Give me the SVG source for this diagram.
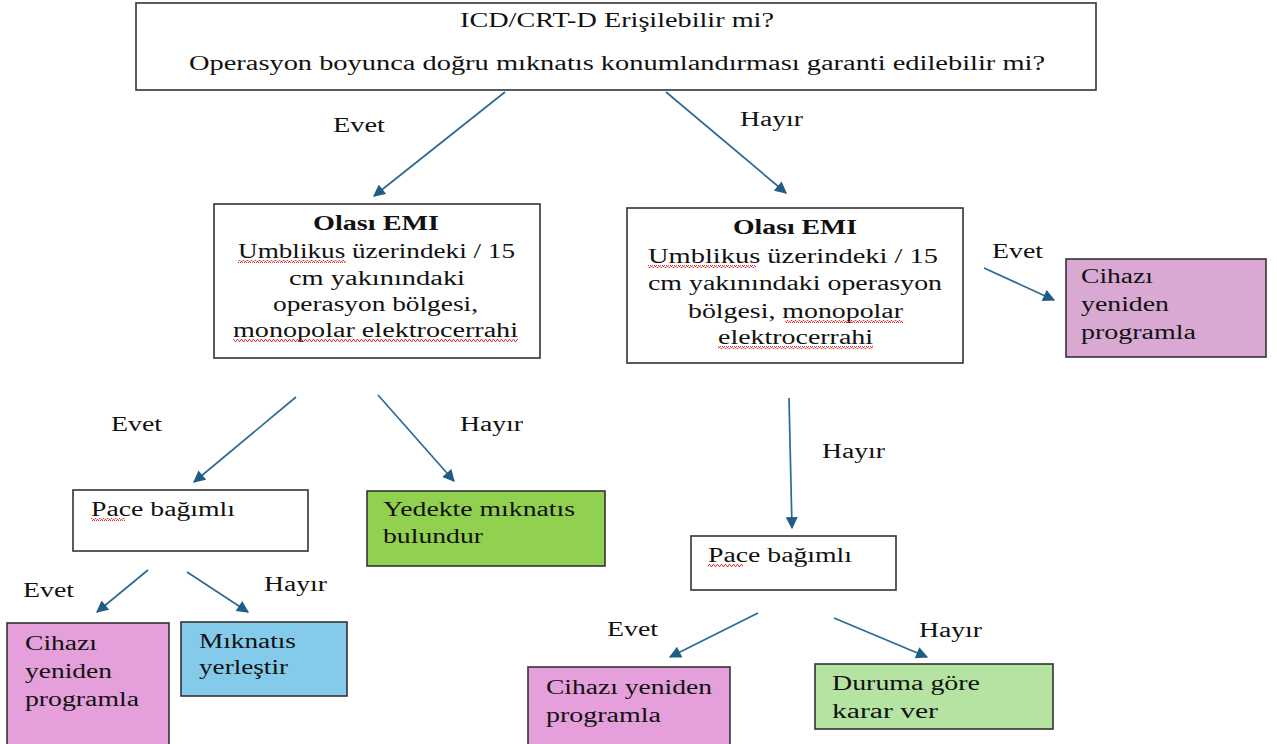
<svg xmlns="http://www.w3.org/2000/svg" width="1277" height="744" viewBox="0 0 1277 744">
<style>
text{font-family:"Liberation Serif","Times New Roman",serif;font-size:20px;fill:#111}
.b{font-weight:bold}
.box{stroke:#333;stroke-width:1.6}
.c{stroke:#2b6a95;stroke-width:1.7;fill:none;marker-end:url(#ah)}
</style>
<defs>
<marker id="ah" viewBox="0 0 10 10" refX="9" refY="5" markerWidth="13" markerHeight="12" markerUnits="userSpaceOnUse" orient="auto">
<path d="M0,0 L10,5 L0,10 Z" fill="#1f5d86"/>
</marker>
<pattern id="wavy" width="4" height="3" patternUnits="userSpaceOnUse">
<polyline points="0,2.5 1,0.5 2,0.5 3,2.5 4,2.5" fill="none" stroke="#e02020" stroke-width="0.9"/>
</pattern>
</defs>
<rect width="1277" height="744" fill="#fff"/>

<g id="connectors">
<line class="c" x1="505" y1="92" x2="374" y2="196"/>
<line class="c" x1="666" y1="92" x2="786" y2="193"/>
<line class="c" x1="296" y1="397" x2="194" y2="482"/>
<line class="c" x1="378" y1="395" x2="454" y2="481"/>
<line class="c" x1="984" y1="268" x2="1054" y2="300"/>
<line class="c" x1="789" y1="398" x2="792" y2="528"/>
<line class="c" x1="148" y1="570" x2="97" y2="612"/>
<line class="c" x1="187" y1="572" x2="248" y2="612"/>
<line class="c" x1="758" y1="613" x2="670" y2="657"/>
<line class="c" x1="834" y1="618" x2="927" y2="657"/>
<text x="333" y="132" textLength="52" lengthAdjust="spacingAndGlyphs">Evet</text>
<text x="740" y="126" textLength="63" lengthAdjust="spacingAndGlyphs">Hayır</text>
<text x="111" y="431" textLength="51" lengthAdjust="spacingAndGlyphs">Evet</text>
<text x="460" y="431" textLength="63" lengthAdjust="spacingAndGlyphs">Hayır</text>
<text x="992" y="258" textLength="51" lengthAdjust="spacingAndGlyphs">Evet</text>
<text x="822" y="458" textLength="63" lengthAdjust="spacingAndGlyphs">Hayır</text>
<text x="23" y="597" textLength="51" lengthAdjust="spacingAndGlyphs">Evet</text>
<text x="264" y="591" textLength="63" lengthAdjust="spacingAndGlyphs">Hayır</text>
<text x="607" y="636" textLength="51" lengthAdjust="spacingAndGlyphs">Evet</text>
<text x="919" y="637" textLength="63" lengthAdjust="spacingAndGlyphs">Hayır</text>
</g>

<g id="n-top">
<rect class="box" x="136" y="3" width="960" height="87" fill="#fff"/>
<text x="460" y="27" textLength="314" lengthAdjust="spacingAndGlyphs">ICD/CRT-D Erişilebilir mi?</text>
<text x="189" y="70" textLength="856" lengthAdjust="spacingAndGlyphs">Operasyon boyunca doğru mıknatıs konumlandırması garanti edilebilir mi?</text>
</g>

<g id="n-emi-left">
<rect class="box" x="214" y="204" width="326" height="154" fill="#fff"/>
<text class="b" x="313" y="230" textLength="126" lengthAdjust="spacingAndGlyphs">Olası EMI</text>
<text x="238" y="258" textLength="277" lengthAdjust="spacingAndGlyphs">Umblikus üzerindeki / 15</text>
<text x="289" y="285" textLength="176" lengthAdjust="spacingAndGlyphs">cm yakınındaki</text>
<text x="273" y="311" textLength="205" lengthAdjust="spacingAndGlyphs">operasyon bölgesi,</text>
<text x="233" y="337" textLength="285" lengthAdjust="spacingAndGlyphs">monopolar elektrocerrahi</text>
<rect x="238" y="260" width="108" height="3" fill="url(#wavy)"/>
<rect x="233" y="339" width="285" height="3" fill="url(#wavy)"/>
</g>

<g id="n-emi-right">
<rect class="box" x="627" y="208" width="336" height="155" fill="#fff"/>
<text class="b" x="733" y="234" textLength="124" lengthAdjust="spacingAndGlyphs">Olası EMI</text>
<text x="648" y="263" textLength="290" lengthAdjust="spacingAndGlyphs">Umblikus üzerindeki  / 15</text>
<text x="648" y="290" textLength="294" lengthAdjust="spacingAndGlyphs">cm yakınındaki operasyon</text>
<text x="688" y="318" textLength="215" lengthAdjust="spacingAndGlyphs">bölgesi, monopolar</text>
<text x="718" y="344" textLength="155" lengthAdjust="spacingAndGlyphs">elektrocerrahi</text>
<rect x="648" y="265" width="108" height="3" fill="url(#wavy)"/>
<rect x="785" y="320" width="118" height="3" fill="url(#wavy)"/>
<rect x="718" y="346" width="155" height="3" fill="url(#wavy)"/>
</g>

<g id="n-reprog-right">
<rect class="box" x="1066" y="259" width="200" height="98" fill="#d9a9d4"/>
<text x="1081" y="283" textLength="72" lengthAdjust="spacingAndGlyphs">Cihazı</text>
<text x="1081" y="311" textLength="88" lengthAdjust="spacingAndGlyphs">yeniden</text>
<text x="1081" y="339" textLength="115" lengthAdjust="spacingAndGlyphs">programla</text>
</g>

<g id="n-pace-left">
<rect class="box" x="73" y="490" width="235" height="61" fill="#fff"/>
<text x="91" y="516" textLength="144" lengthAdjust="spacingAndGlyphs">Pace bağımlı</text>
<rect x="91" y="518" width="34" height="3" fill="url(#wavy)"/>
</g>

<g id="n-yedek">
<rect class="box" x="367" y="491" width="238" height="75" fill="#92d050"/>
<text x="383" y="516" textLength="192" lengthAdjust="spacingAndGlyphs">Yedekte mıknatıs</text>
<text x="383" y="543" textLength="100" lengthAdjust="spacingAndGlyphs">bulundur</text>
</g>

<g id="n-reprog-bl">
<rect class="box" x="7" y="623" width="162" height="125" fill="#e5a0dc"/>
<text x="25" y="650" textLength="72" lengthAdjust="spacingAndGlyphs">Cihazı</text>
<text x="25" y="678" textLength="87" lengthAdjust="spacingAndGlyphs">yeniden</text>
<text x="25" y="706" textLength="114" lengthAdjust="spacingAndGlyphs">programla</text>
</g>

<g id="n-miknatis">
<rect class="box" x="181" y="622" width="166" height="74" fill="#84cbeb"/>
<text x="199" y="648" textLength="97" lengthAdjust="spacingAndGlyphs">Mıknatıs</text>
<text x="199" y="674" textLength="89" lengthAdjust="spacingAndGlyphs">yerleştir</text>
</g>

<g id="n-pace-right">
<rect class="box" x="691" y="536" width="205" height="54" fill="#fff"/>
<text x="708" y="562" textLength="144" lengthAdjust="spacingAndGlyphs">Pace bağımlı</text>
<rect x="708" y="564" width="35" height="3" fill="url(#wavy)"/>
</g>

<g id="n-reprog-bm">
<rect class="box" x="528" y="667" width="202" height="81" fill="#e5a0dc"/>
<text x="546" y="694" textLength="166" lengthAdjust="spacingAndGlyphs">Cihazı yeniden</text>
<text x="546" y="722" textLength="115" lengthAdjust="spacingAndGlyphs">programla</text>
</g>

<g id="n-duruma">
<rect class="box" x="815" y="664" width="238" height="65" fill="#b5e3a1"/>
<text x="832" y="690" textLength="148" lengthAdjust="spacingAndGlyphs">Duruma göre</text>
<text x="832" y="718" textLength="106" lengthAdjust="spacingAndGlyphs">karar ver</text>
</g>
</svg>
